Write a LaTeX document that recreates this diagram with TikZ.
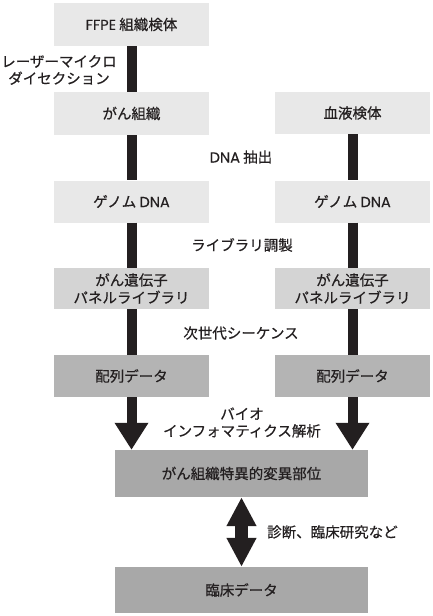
\documentclass[tikz,border=0pt]{standalone}
\usepackage{fontspec}
\setmainfont[FakeBold=0.6,AutoFakeBold=0.6]{Noto Sans CJK JP}
\newfontfamily\latf[FakeBold=0.3]{Poppins}
\usetikzlibrary{arrows.meta}
\definecolor{boxA}{HTML}{E8E8E8}
\definecolor{boxB}{HTML}{D4D4D4}
\definecolor{boxC}{HTML}{B4B4B4}
\definecolor{boxD}{HTML}{A8A8A8}
\definecolor{barc}{HTML}{231F20}
\tikzset{
  stepbox/.style={minimum width=155pt, minimum height=42pt, inner sep=0pt, align=center, font=\fontsize{14.5}{17.5}\selectfont, text=barc},
  bigbox/.style={minimum width=253pt, minimum height=47pt, inner sep=0pt, align=center, font=\fontsize{14.5}{17.5}\selectfont, text=barc, fill=boxD},
  lbl/.style={align=center, font=\fontsize{14.5}{17}\selectfont, text=barc, inner sep=0pt},
  bar/.style={draw=barc, line width=10pt},
  arr/.style={draw=barc, line width=10pt, -{Triangle[width=32pt,length=27pt,fill=barc]}},
  darr/.style={draw=barc, line width=13pt, {Triangle[width=28pt,length=29pt,fill=barc]}-{Triangle[width=28pt,length=29pt,fill=barc]}}
}
\begin{document}
\begin{tikzpicture}[x=1pt,y=-1pt]
\useasboundingbox (0,0) rectangle (432,616);
% left column
\node[stepbox, fill=boxA, minimum height=43pt] (ffpe) at (131.5,24.5) {{\latf FFPE} 組織検体};
\node[stepbox, fill=boxA, minimum height=43pt] (gan) at (131.5,113.5) {がん組織};
\node[stepbox, fill=boxA] (dnaL) at (131.5,201.5) {ゲノム {\latf DNA}};
\node[stepbox, fill=boxB, minimum height=41pt] (libL) at (131.5,288.5) {がん遺伝子\\パネルライブラリ};
\node[stepbox, fill=boxC] (seqL) at (131.5,376) {配列データ};
% right column
\node[stepbox, fill=boxA] (blood) at (352.5,113) {血液検体};
\node[stepbox, fill=boxA] (dnaR) at (352.5,201.5) {ゲノム {\latf DNA}};
\node[stepbox, fill=boxB, minimum height=41pt] (libR) at (352.5,288.5) {がん遺伝子\\パネルライブラリ};
\node[stepbox, fill=boxC] (seqR) at (352.5,376) {配列データ};
% bottom
\node[bigbox] (mut) at (241.5,473.5) {がん組織特異的変異部位};
\node[bigbox, minimum height=46pt] (clin) at (241.5,590) {臨床データ};
% connectors
\draw[bar] (ffpe.south) -- (gan.north);
\draw[bar] (gan.south) -- (dnaL.north);
\draw[bar] (dnaL.south) -- (libL.north);
\draw[bar] (libL.south) -- (seqL.north);
\draw[bar] (blood.south) -- (dnaR.north);
\draw[bar] (dnaR.south) -- (libR.north);
\draw[bar] (libR.south) -- (seqR.north);
\draw[arr] (seqL.south) -- (seqL.south |- mut.north);
\draw[arr] (seqR.south) -- (seqR.south |- mut.north);
\draw[darr] (mut.south) -- (clin.north);
% labels
\node[lbl] (lmd) at (59,70) {レーザーマイクロ\\ダイセクション};
\node[lbl] (lext) at (241,157) {{\latf DNA} 抽出};
\node[lbl] (llib) at (242,245) {ライブラリ調製};
\node[lbl] (lngs) at (241,333) {次世代シーケンス};
\node[lbl] (lbio) at (242,422.5) {バイオ\\インフォマティクス解析};
\node[lbl, anchor=west] (ldiag) at (267,532) {診断、臨床研究など};
\end{tikzpicture}
\end{document}
